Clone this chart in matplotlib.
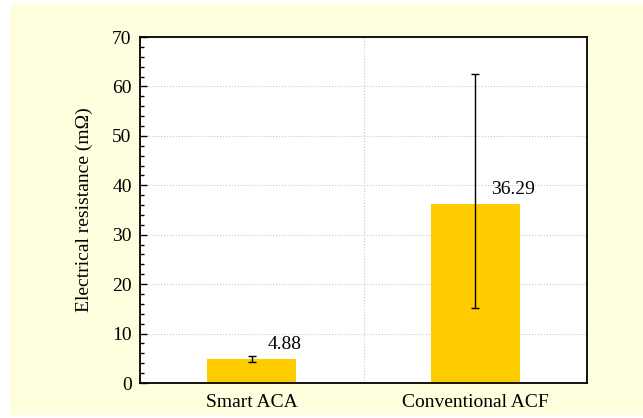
import matplotlib.pyplot as plt
from matplotlib.patches import Rectangle
from matplotlib.ticker import MultipleLocator
import numpy as np

categories = ['Smart ACA', 'Conventional ACF']
means = [4.88, 36.29]
err_low = [0.6, 21.2]
err_high = [0.6, 26.3]
labels = ['4.88', '36.29']

plt.rcParams['font.family'] = ['Liberation Serif', 'DejaVu Serif']

fig = plt.figure(figsize=(6.43, 4.18), dpi=100)
fig.patch.set_facecolor('white')
fig.patches.append(Rectangle((10/643, 3/418), 633/643, 412/418, transform=fig.transFigure,
                             facecolor='#FFFFE0', edgecolor='none', zorder=-10))

ax = fig.add_axes([140/643, 1-383/418, 447/643, 346/418])
x = np.arange(len(categories))
ax.bar(x, means, width=0.4, color='#FFCC00', zorder=2)
ax.errorbar(x, means, yerr=[err_low, err_high], fmt='none', ecolor='black',
            elinewidth=1, capsize=3, capthick=1, zorder=3)
for xi, m, lab in zip(x, means, labels):
    ax.text(xi + 0.07, m + 1.2, lab, fontsize=14, ha='left', va='bottom')

ax.set_xlim(-0.5, 1.5)
ax.set_ylim(0, 70)
ax.set_xticks(x)
ax.set_xticklabels(categories, fontsize=14)
ax.yaxis.set_major_locator(MultipleLocator(10))
ax.yaxis.set_minor_locator(MultipleLocator(2))
ax.tick_params(axis='y', which='both', direction='in', labelsize=14, right=False, pad=6)
ax.tick_params(axis='y', which='major', length=5, width=1)
ax.tick_params(axis='y', which='minor', length=3, width=1)
ax.tick_params(axis='x', length=0, pad=8)
ax.set_ylabel('Electrical resistance (m\u03a9)', fontsize=14, labelpad=14)

ax.set_axisbelow(True)
ax.grid(axis='y', which='major', linestyle=':', color='#c8c8c8', linewidth=0.8)
ax.axvline(0.5, linestyle=':', color='#c8c8c8', linewidth=0.8, zorder=0)
for s in ax.spines.values():
    s.set_linewidth(1.3)

fig.savefig('out.png', dpi=100)
